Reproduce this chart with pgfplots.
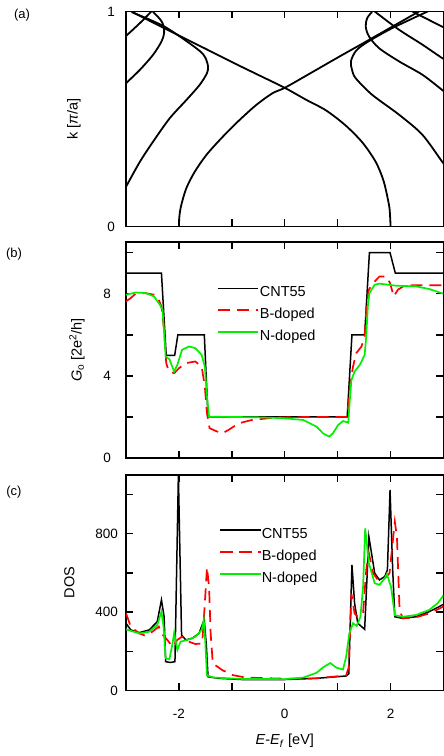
\documentclass[border=0pt]{standalone}
\usepackage{pgfplots}
\pgfplotsset{compat=1.18}
\usepackage{fontspec}
\setmainfont{Liberation Sans}
\definecolor{ngreen}{RGB}{0,240,0}
\definecolor{bred}{RGB}{255,0,0}
\newcommand{\lblfont}{\fontsize{14.5}{16}\selectfont}
\tikzset{
  cntL/.style={black, line width=1.5pt, solid},
  bdpL/.style={bred, line width=1.7pt, dash pattern=on 12pt off 7pt},
  ndpL/.style={ngreen, line width=1.7pt, solid},
}
\pgfplotsset{
  myax/.style={
    scale only axis, width=317.5pt, xmin=-3, xmax=3, anchor=south west,
    axis line style={line width=1.6pt},
    major tick style={line width=1.4pt, black}, major tick length=7pt,
    tick align=inside, xtick={-3,-2,-1,0,1,2,3},
    ticklabel style={font=\fontsize{13.5}{15}\selectfont},
    /pgf/number format/assume math mode=true,
    yticklabel style={anchor=east, inner sep=0pt},
    xticklabel style={anchor=north, inner sep=0pt, yshift=-18.5pt},
    every axis x label/.style={at={(rel axis cs:0.5,0)}, yshift=-50.5pt, anchor=center, font=\lblfont},
    legend style={draw=none, fill=none, inner sep=0pt, anchor=north west,
      font=\fontsize{14.5}{16}\selectfont, row sep=5pt,
      nodes={inner sep=1.5pt, text height=11pt, text depth=3pt}},
    legend cell align=left,
    legend image code/.code={\draw[##1] (0pt,4.5pt) -- (40pt,4.5pt);},
  },
  bnd/.style={black, line width=1.8pt, smooth, no marks},
  cnt/.style={black, line width=1.5pt, no marks, forget plot},
  bdp/.style={bred, line width=1.7pt, dash pattern=on 12pt off 7pt, no marks, forget plot},
  ndp/.style={ngreen, line width=1.7pt, no marks, forget plot},
}
\begin{document}
\begin{tikzpicture}[x=1pt,y=1pt]
% ---------------- (a) ----------------
\begin{axis}[myax, at={(126pt,529.5pt)}, height=215pt, ymin=0, ymax=1,
  ytick={0,1}, yticklabels={0,1}, xticklabels={,,,,,,},
  yticklabel style={xshift=-11pt},
  every axis y label/.style={at={(rel axis cs:0,0.5)}, xshift=-52pt, rotate=90, anchor=center, font=\lblfont},
  ylabel={k [\textit{π}/a]}]
\addplot[bnd] coordinates {(-2.0,0) (-1.99,0.05) (-1.955,0.10) (-1.86,0.178) (-1.70,0.255) (-1.48,0.333) (-1.20,0.41) (-0.89,0.487) (-0.54,0.565) (-0.23,0.62) (0,0.645) (0.5,0.715) (1.03,0.79) (1.5,0.855) (2.0,0.925) (2.5,0.995) (2.54,1.0)};
\addplot[bnd] coordinates {(2.0,0) (1.99,0.05) (1.97,0.10) (1.87,0.21) (1.72,0.30) (1.47,0.39) (1.15,0.47) (0.78,0.54) (0.40,0.59) (0,0.645) (-0.5,0.705) (-1.0,0.765) (-1.5,0.827) (-2.0,0.888) (-2.5,0.95) (-2.9,1.0)};
\addplot[bnd] coordinates {(-3.05,0.165) (-3.0,0.185) (-2.74,0.30) (-2.49,0.394) (-2.175,0.503) (-1.86,0.588) (-1.61,0.658) (-1.47,0.713) (-1.45,0.745) (-1.50,0.785) (-1.6,0.815) (-1.89,0.868) (-2.26,0.928) (-2.58,0.965) (-2.89,0.997)};
\addplot[bnd] coordinates {(-3.05,0.65) (-3.0,0.666) (-2.74,0.728) (-2.49,0.798) (-2.33,0.86) (-2.28,0.9) (-2.30,0.94) (-2.36,0.965) (-2.49,0.998)};
\addplot[bnd] coordinates {(-3.05,0.875) (-3.0,0.886) (-2.85,0.92) (-2.7,0.955) (-2.52,1.0)};
\addplot[bnd] coordinates {(3.05,0.28) (2.97,0.303) (2.60,0.427) (2.16,0.52) (1.65,0.613) (1.34,0.69) (1.27,0.73) (1.25,0.768) (1.34,0.815) (1.53,0.853) (1.97,0.915) (2.35,0.96) (2.7,1.0)};
\addplot[bnd] coordinates {(3.05,0.62) (2.97,0.636) (2.60,0.706) (2.16,0.768) (1.78,0.83) (1.59,0.885) (1.53,0.931) (1.56,0.97) (1.65,0.998)};
\addplot[bnd] coordinates {(3.05,0.775) (2.97,0.784) (2.60,0.846) (2.16,0.915) (1.78,0.985) (1.7,1.0)};
\addplot[bnd] coordinates {(2.41,1.0) (2.97,0.93) (3.05,0.92)};
\end{axis}
% ---------------- (b) ----------------
\begin{axis}[myax, at={(126pt,298pt)}, height=216pt, ymin=0, ymax=10.52,
  ytick={0,2,4,6,8,10}, yticklabels={0,,4,,8,}, xticklabels={,,,,,,},
  yticklabel style={xshift=-15pt},
  every axis y label/.style={at={(rel axis cs:0,0.5)}, xshift=-49pt, rotate=90, anchor=center, font=\lblfont},
  ylabel={\textit{G}\textsubscript{o} [2e\textsuperscript{2}/h]},
  legend style={at={(rel axis cs:0.285,0.805)}}]
\addplot[cnt] coordinates {(-3,9) (-2.33,9) (-2.24,5) (-2.08,5) (-2.02,6) (-1.52,6) (-1.45,2) (1.18,2) (1.27,6) (1.51,6) (1.60,10) (1.99,10) (2.09,9) (3,9)};
\addplot[bdp] coordinates {(-3,7.63) (-2.91,7.79) (-2.82,8.0) (-2.63,8.03) (-2.47,7.95) (-2.38,7.7) (-2.33,7.38) (-2.28,6.24) (-2.24,4.62) (-2.19,4.21) (-2.09,4.13) (-2.0,4.37) (-1.87,4.62) (-1.69,4.7) (-1.57,4.45) (-1.51,3.48) (-1.47,2.18) (-1.42,1.45) (-1.28,1.29) (-1.18,1.2) (-1.06,1.37) (-0.87,1.69) (-0.62,1.85) (-0.18,1.97) (0.5,2.0) (1.18,2.0) (1.23,3.48) (1.29,4.45) (1.35,5.1) (1.45,5.43) (1.51,5.92) (1.55,7.55) (1.59,8.2) (1.67,8.52) (1.79,8.84) (1.92,8.84) (1.99,8.52) (2.06,7.87) (2.14,8.2) (2.26,8.39) (2.48,8.42) (3.0,8.41)};
\addplot[ndp] coordinates {(-3,7.95) (-2.82,8.06) (-2.63,8.03) (-2.47,7.87) (-2.36,7.46) (-2.31,7.22) (-2.28,6.08) (-2.25,4.94) (-2.18,4.81) (-2.09,4.21) (-2.03,4.54) (-1.94,5.27) (-1.81,5.43) (-1.69,5.35) (-1.57,5.02) (-1.51,4.45) (-1.47,2.99) (-1.43,2.01) (-1.0,2.0) (-0.5,1.98) (-0.03,1.94) (0.35,1.85) (0.60,1.53) (0.725,1.2) (0.84,1.04) (0.91,1.2) (1.01,1.61) (1.10,1.8) (1.20,1.72) (1.23,2.83) (1.26,3.8) (1.32,4.21) (1.42,4.54) (1.51,5.02) (1.54,5.92) (1.57,7.38) (1.60,8.03) (1.70,8.44) (1.79,8.49) (2.11,8.39) (2.48,8.36) (2.73,8.23) (3.0,8.0)};
\addlegendimage{cntL}\addlegendentry{CNT55}
\addlegendimage{bdpL}\addlegendentry{B-doped}
\addlegendimage{ndpL}\addlegendentry{N-doped}
\end{axis}
% ---------------- (c) ----------------
\begin{axis}[myax, at={(126pt,65.5pt)}, height=215.5pt, ymin=0, ymax=1099,
  ytick={0,200,400,600,800,1000}, yticklabels={0,,400,,800,},
  xticklabels={,-2,,0,,2,},
  yticklabel style={xshift=-8pt},
  every axis y label/.style={at={(rel axis cs:0,0.5)}, xshift=-56.5pt, rotate=90, anchor=center, font=\lblfont},
  ylabel={DOS},
  xlabel={\textit{E}-\textit{E}\textsubscript{\textit{f}} [eV]},
  legend style={at={(rel axis cs:0.295,0.766)}}]
\addplot[cnt] coordinates {(-3,343) (-2.91,309) (-2.75,295) (-2.56,309) (-2.41,351) (-2.33,462) (-2.28,377) (-2.25,147) (-2.16,143) (-2.075,147) (-2.01,1099) (-1.95,283) (-1.87,258) (-1.75,266) (-1.62,291) (-1.55,342) (-1.52,358) (-1.48,224) (-1.45,70) (-1.25,62) (-0.81,56) (0,56) (0.6,62) (1.16,74) (1.21,85) (1.27,640) (1.32,445) (1.38,343) (1.51,312) (1.59,784) (1.63,717) (1.70,598) (1.79,564) (1.89,581) (1.94,615) (1.99,1023) (2.04,615) (2.08,376) (2.23,368) (2.48,376) (2.73,402) (2.9,425) (3.0,440)};
\addplot[bdp] coordinates {(-3,394) (-2.91,326) (-2.75,291) (-2.63,279) (-2.50,300) (-2.38,326) (-2.33,291) (-2.22,258) (-2.12,224) (-2.03,258) (-1.94,275) (-1.81,249) (-1.69,237) (-1.56,240) (-1.51,445) (-1.47,629) (-1.43,527) (-1.40,291) (-1.36,138) (-1.18,104) (-0.99,79) (-0.74,66) (0,60) (0.6,62) (1.16,77) (1.21,119) (1.26,493) (1.32,393) (1.38,376) (1.48,393) (1.54,615) (1.59,700) (1.67,598) (1.76,564) (1.89,572) (1.98,598) (2.08,861) (2.12,785) (2.17,411) (2.23,368) (2.48,373) (2.73,393) (3.0,428)};
\addplot[ndp] coordinates {(-3,312) (-2.75,291) (-2.56,300) (-2.41,334) (-2.33,402) (-2.29,326) (-2.25,164) (-2.18,159) (-2.12,240) (-2.09,295) (-2.03,207) (-1.97,249) (-1.84,258) (-1.69,274) (-1.57,309) (-1.53,360) (-1.50,240) (-1.47,77) (-1.34,66) (-0.81,59) (0,58) (0.35,66) (0.6,90) (0.73,119) (0.86,140) (0.98,116) (1.10,107) (1.16,172) (1.22,291) (1.29,343) (1.36,329) (1.43,376) (1.48,527) (1.52,827) (1.59,649) (1.70,547) (1.79,539) (1.89,572) (1.93,594) (2.01,527) (2.08,384) (2.23,376) (2.48,385) (2.73,411) (2.89,445) (3.0,485)};
\addlegendimage{legend image code/.code={\fill[black] (0pt,3.7pt) rectangle (40pt,5.3pt);}}
\addlegendentry{CNT55}
\addlegendimage{legend image code/.code={\fill[bred] (0pt,3.6pt) rectangle (12pt,5.4pt); \fill[bred] (19pt,3.6pt) rectangle (31pt,5.4pt); \fill[bred] (38pt,3.6pt) rectangle (40pt,5.4pt);}}
\addlegendentry{B-doped}
\addlegendimage{legend image code/.code={\fill[ngreen] (0pt,3.6pt) rectangle (40pt,5.4pt);}}
\addlegendentry{N-doped}
\end{axis}
\node[font=\fontsize{13}{15}\selectfont] at (22,740.5) {(a)};
\node[font=\fontsize{13}{15}\selectfont] at (14,501.5) {(b)};
\node[font=\fontsize{13}{15}\selectfont] at (14,263.5) {(c)};
\pgfresetboundingbox
\useasboundingbox (0,0) rectangle (444,756);
\end{tikzpicture}
\end{document}
